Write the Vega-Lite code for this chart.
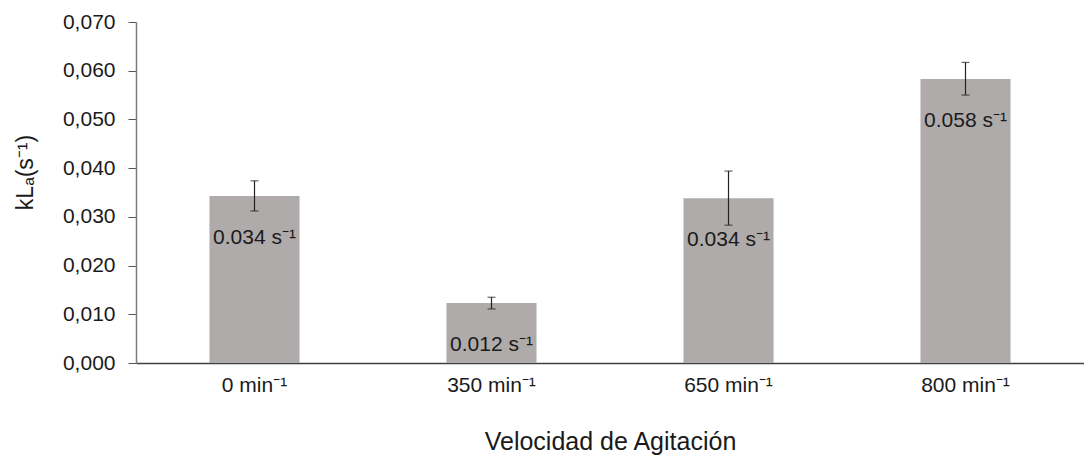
{
  "$schema": "https://vega.github.io/schema/vega-lite/v6.json",
  "width": 948,
  "height": 341,
  "autosize": {"type": "none"},
  "padding": {"left": 136, "top": 22, "right": 0, "bottom": 100},
  "config": {
    "view": {"stroke": null},
    "font": "Liberation Sans",
    "axis": {"labelFont": "Liberation Sans", "titleFont": "Liberation Sans", "grid": false}
  },
  "data": {
    "values": [
      {"speed": "0 min⁻¹", "kla": 0.0343, "lo": 0.0312, "hi": 0.0374, "label": "0.034 s⁻¹"},
      {"speed": "350 min⁻¹", "kla": 0.0123, "lo": 0.0111, "hi": 0.0135, "label": "0.012 s⁻¹"},
      {"speed": "650 min⁻¹", "kla": 0.0338, "lo": 0.0283, "hi": 0.0394, "label": "0.034 s⁻¹"},
      {"speed": "800 min⁻¹", "kla": 0.0583, "lo": 0.055, "hi": 0.0617, "label": "0.058 s⁻¹"}
    ]
  },
  "encoding": {
    "x": {
      "field": "speed",
      "type": "nominal",
      "sort": null,
      "scale": {"paddingInner": 0.62, "paddingOuter": 0.31},
      "axis": {
        "title": "Velocidad de Agitación",
        "titleFontSize": 25,
        "titleFontWeight": "normal",
        "titleColor": "#1a1a1a",
        "titlePadding": 34,
        "labelAngle": 0,
        "labelFontSize": 21,
        "labelColor": "#1a1a1a",
        "labelPadding": 11,
        "ticks": false,
        "domainColor": "#404040",
        "domainWidth": 1.5
      }
    }
  },
  "layer": [
    {
      "mark": {"type": "bar", "color": "#aeabaa"},
      "encoding": {
        "y": {
          "field": "kla",
          "type": "quantitative",
          "scale": {"domain": [0, 0.07], "nice": false},
          "axis": {
            "values": [0, 0.01, 0.02, 0.03, 0.04, 0.05, 0.06, 0.07],
            "labelExpr": "replace(format(datum.value, '.3f'), '.', ',')",
            "labelFontSize": 21,
            "labelColor": "#1a1a1a",
            "labelPadding": 13,
            "tickSize": 8,
            "tickColor": "#555555",
            "domainColor": "#7a7a7a",
            "domainWidth": 1.5,
            "title": "kLₐ(s⁻¹)",
            "titleFontSize": 23,
            "titleFontWeight": "normal",
            "titleColor": "#1a1a1a",
            "titleX": -111,
            "titleY": 150,
            "titleAngle": -90,
            "titleAlign": "center",
            "titleBaseline": "middle"
          }
        }
      }
    },
    {
      "mark": {"type": "rule", "color": "#222222", "strokeWidth": 1.2},
      "encoding": {
        "y": {"field": "lo", "type": "quantitative"},
        "y2": {"field": "hi"}
      }
    },
    {
      "mark": {"type": "tick", "color": "#222222", "size": 8, "thickness": 1.2},
      "encoding": {"y": {"field": "lo", "type": "quantitative"}}
    },
    {
      "mark": {"type": "tick", "color": "#222222", "size": 8, "thickness": 1.2},
      "encoding": {"y": {"field": "hi", "type": "quantitative"}}
    },
    {
      "mark": {"type": "text", "fontSize": 21, "color": "#1a1a1a", "dy": 42, "baseline": "middle"},
      "encoding": {
        "y": {"field": "kla", "type": "quantitative"},
        "text": {"field": "label"}
      }
    }
  ]
}
